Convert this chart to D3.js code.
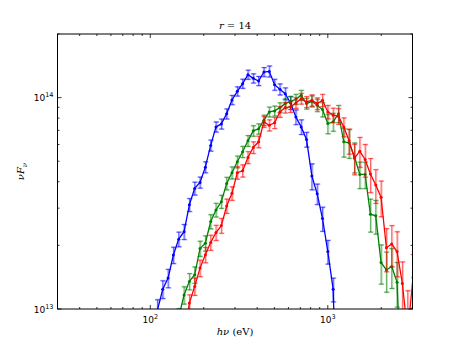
<!DOCTYPE html>
<html><head><meta charset="utf-8">
<script src="https://cdn.jsdelivr.net/npm/d3@7"></script>
<style>body{margin:0;background:#fff}svg{display:block}</style>
</head><body>
<script>
// photon energies (eV), shared bin grid
const energy = [109.6,117.5,125.9,134.9,144.5,154.9,166.0,177.8,190.5,204.2,218.8,234.4,251.2,269.2,288.4,309.0,331.1,354.8,380.2,407.4,436.5,467.7,501.2,537.0,575.4,616.6,660.7,707.9,758.6,812.8,871.0,933.3,1000,1071.5,1148,1230,1318,1413,1514,1622,1738,1862,1995,2138,2291,2455,2630,2818,3020];
// nuFnu in units of 1e13
const blueFlux = [0.986,1.24,1.40,1.80,2.14,2.32,3.11,3.72,3.97,4.69,5.94,7.27,7.51,8.38,9.75,10.71,11.64,12.84,12.34,11.99,13.22,13.31,11.52,10.95,10.44,9.44,8.10,7.27,6.34,4.26,3.51,2.68,1.87,1.24,0.2,null,null,null,null,null,null,null,null,null,null,null,null,null,null];
const blueErr = [0.12,0.12,0.14,0.16,0.17,0.19,0.22,0.26,0.24,0.28,0.36,0.40,0.41,0.46,0.49,0.54,0.58,0.64,0.62,0.60,0.66,0.80,0.69,0.66,0.68,0.66,0.65,0.58,0.51,0.60,0.39,0.35,0.24,0.16,0.1,null,null,null,null,null,null,null,null,null,null,null,null,null,null];
const greenFlux = [null,null,null,null,0.913,1.164,1.351,1.452,1.932,2.048,2.592,2.942,3.220,3.929,4.412,4.973,5.542,6.246,6.963,7.116,7.819,8.559,8.652,8.971,9.369,9.610,9.82,10.26,9.37,9.61,9.20,8.78,7.54,7.68,8.40,6.18,6.11,5.25,4.33,4.33,2.81,2.76,1.66,1.53,1.59,1.34,0.3,null,null];
const greenErr = [null,null,null,null,0.09,0.11,0.12,0.13,0.16,0.17,0.20,0.22,0.23,0.27,0.29,0.32,0.34,0.37,0.40,0.40,0.44,0.46,0.47,0.48,0.50,0.52,0.54,0.56,0.55,0.58,0.62,0.68,0.80,0.75,0.78,0.95,0.95,0.85,0.62,0.62,0.50,0.50,0.35,0.33,0.34,0.32,0.2,null,null];
const redFlux = [null,null,null,null,null,0.725,1.067,1.279,1.561,1.804,2.063,2.299,2.481,3.072,3.525,4.412,4.509,5.212,5.809,6.18,7.68,7.40,7.60,8.56,8.97,9.04,9.44,9.89,9.54,9.71,9.37,9.71,8.56,8.26,8.17,7.27,6.25,5.16,5.58,5.10,4.35,3.86,3.38,1.95,2.03,1.87,1.32,0.77,1.41];
const redErr = [null,null,null,null,null,0.08,0.10,0.12,0.14,0.15,0.17,0.19,0.20,0.24,0.26,0.30,0.30,0.34,0.37,0.39,0.45,0.45,0.46,0.50,0.52,0.53,0.55,0.58,0.57,0.60,0.60,0.65,0.62,0.65,0.70,0.75,0.85,0.85,0.90,0.90,0.80,0.70,0.65,0.45,0.45,0.45,0.35,0.45,0.40];
const fluxUnit = 1e13;
const seriesNames = ["blue","green","red"];
const xTickLabels = [{v:100,b:"10",e:"2"},{v:1000,b:"10",e:"3"}];
const yTickLabels = [{v:1e13,b:"10",e:"13"},{v:1e14,b:"10",e:"14"}];

const W=458,H=345;
const L=57.5,R=412.5,T=34,B=309;
const svg=d3.select("body").append("svg").attr("width",W).attr("height",H);
const x=d3.scaleLog().domain([30,3000]).range([L,R]);
const y=d3.scaleLog().domain([1e13,2e14]).range([B,T]);

svg.append("clipPath").attr("id","clip").append("rect").attr("x",L).attr("y",T).attr("width",R-L).attr("height",B-T);
const g=svg.append("g").attr("clip-path","url(#clip)");

const series=[
 {name:seriesNames[0],color:"#0000ff",flux:blueFlux,err:blueErr},
 {name:seriesNames[1],color:"#008000",flux:greenFlux,err:greenErr},
 {name:seriesNames[2],color:"#ff0000",flux:redFlux,err:redErr}
];
series.forEach(s=>{
  const pts=energy.map((e,i)=>({e,v:s.flux[i]==null?null:s.flux[i]*fluxUnit,er:s.err[i]==null?0:s.err[i]*fluxUnit})).filter(d=>d.v!=null);
  [[1.8,0.25,0.7],[1.0,0.55,0]].forEach(([sw,op,off])=>{
    const eg=g.append("g").attr("stroke",s.color).attr("stroke-opacity",op).attr("stroke-width",sw);
    pts.forEach(d=>{
      const lo=y(Math.max(d.v-d.er,1e11)), hi=y(d.v+d.er), cx=x(d.e)+off;
      eg.append("line").attr("x1",cx).attr("x2",cx).attr("y1",lo).attr("y2",hi);
      eg.append("line").attr("x1",cx-2.5).attr("x2",cx+2.5).attr("y1",lo).attr("y2",lo);
      eg.append("line").attr("x1",cx-2.5).attr("x2",cx+2.5).attr("y1",hi).attr("y2",hi);
    });
  });
  g.append("path").datum(pts).attr("fill","none").attr("stroke",s.color).attr("stroke-width",1.3)
    .attr("d",d3.line().x(d=>x(d.e)).y(d=>y(d.v)));
  g.selectAll(null).data(pts).enter().append("circle").attr("cx",d=>x(d.e)).attr("cy",d=>y(d.v)).attr("r",1.5).attr("fill",s.color);
});

// frame
svg.append("rect").attr("x",L).attr("y",T).attr("width",R-L).attr("height",B-T).attr("fill","none").attr("stroke","#000").attr("stroke-width",1);

// ticks
const tk=svg.append("g").attr("stroke","#000").attr("stroke-width",0.8);
const xt=[];for(let d=10;d<=1000;d*=10)for(let m=1;m<=9;m++){const v=d*m;if(v>=30&&v<=3000)xt.push(v);}
xt.forEach(v=>{const len=(Math.log10(v)%1===0)?4:2;const px=x(v);
  tk.append("line").attr("x1",px).attr("x2",px).attr("y1",B).attr("y2",B-len);
  tk.append("line").attr("x1",px).attr("x2",px).attr("y1",T).attr("y2",T+len);});
const yt=[];for(let m=1;m<=9;m++)yt.push(m*1e13);yt.push(1e14,2e14);
yt.forEach(v=>{const maj=(v===1e13||v===1e14);const len=maj?4:2;const py=y(v);
  tk.append("line").attr("x1",L).attr("x2",L+len).attr("y1",py).attr("y2",py);
  tk.append("line").attr("x1",R).attr("x2",R-len).attr("y1",py).attr("y2",py);});

// tick labels
xTickLabels.forEach(t=>{
  const tx=svg.append("text").attr("x",x(t.v)).attr("y",B+14).attr("text-anchor","middle")
   .attr("font-family","DejaVu Sans").attr("font-size",9);
  tx.append("tspan").text(t.b);
  tx.append("tspan").attr("dy",-4).attr("font-size",6.5).text(t.e);
});
yTickLabels.forEach(t=>{
  const tx=svg.append("text").attr("x",L-4).attr("y",y(t.v)+3.5).attr("text-anchor","end")
   .attr("font-family","DejaVu Sans").attr("font-size",9);
  tx.append("tspan").text(t.b);
  tx.append("tspan").attr("dy",-4).attr("font-size",6.5).text(t.e);
});

// title
const tt=svg.append("text").attr("x",(L+R)/2).attr("y",29).attr("text-anchor","middle")
 .attr("font-family","DejaVu Serif").attr("font-size",10);
tt.append("tspan").attr("font-style","italic").text("r");
tt.append("tspan").text(" = 14");

// x label
const xl=svg.append("text").attr("x",(L+R)/2).attr("y",335).attr("text-anchor","middle")
 .attr("font-family","DejaVu Serif").attr("font-size",10);
xl.append("tspan").attr("font-style","italic").text("hν");
xl.append("tspan").text(" (eV)");

// y label
const yl=svg.append("text").attr("transform","translate(24,"+((T+B)/2)+") rotate(-90)").attr("text-anchor","middle")
 .attr("font-family","DejaVu Serif").attr("font-size",10).attr("font-style","italic");
yl.append("tspan").text("νF");
yl.append("tspan").attr("dy",2.5).attr("font-size",7).text("ν");
</script>
</body></html>
